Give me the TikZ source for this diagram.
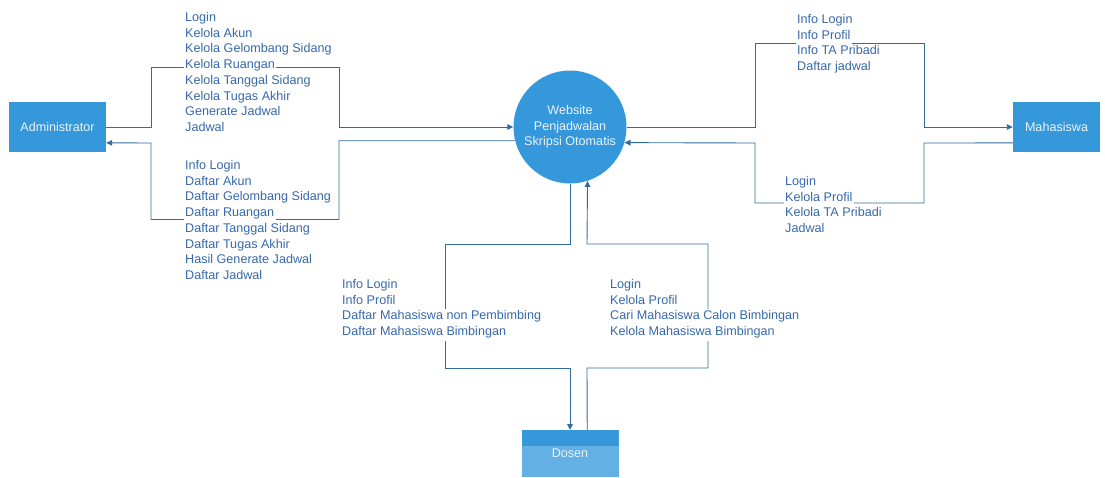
\documentclass[tikz,border=0pt]{standalone}
\usepackage{fontspec}
\setmainfont{Liberation Sans}
\usetikzlibrary{arrows.meta,calc}
\definecolor{boxblue}{RGB}{52,152,219}
\definecolor{boxlight}{RGB}{98,176,228}
\definecolor{boxtext}{RGB}{235,242,250}
\definecolor{linecol}{RGB}{50,108,158}
\definecolor{txtcol}{RGB}{55,105,170}
\tikzset{
  ext/.style={fill=boxblue, text=boxtext, font=\fontsize{12.6}{15}\selectfont, inner sep=0pt},
  proc/.style={circle, fill=boxblue, text=boxtext, minimum size=113pt, inner sep=0pt, font=\fontsize{12.6}{15.5}\selectfont},
  flow/.style={draw=linecol, line width=0.9pt, -{Triangle[length=6pt,width=5.5pt]}},
  lbl/.style={fill=white, text=txtcol, anchor=west, inner xsep=1.5pt, inner ysep=2pt, text height=8.8pt, text depth=2.9pt, font=\fontsize{12.6}{15}\selectfont},
}
\newcommand\labelblock[4]{\foreach \t [count=\i] in {#4} {\node[lbl] (#1\i) at ({#2},{#3+2.5+15.75*(\i-1)}) {\t};}}
\begin{document}
\begin{tikzpicture}[x=1pt,y=-1pt]
\useasboundingbox (0,0) rectangle (1105,477);
% entities and process
\node[ext, minimum width=97pt, minimum height=50pt] (admin) at (57.5,127) {Administrator};
\node[ext, minimum width=87pt, minimum height=50pt] (mhs) at (1056.5,127) {Mahasiswa};
\node[proc] (web) at (570,127) {\raisebox{-2pt}{\begin{tabular}{@{}c@{}}Website\\Penjadwalan\\Skripsi Otomatis\end{tabular}}};
\node[ext, fill=boxlight, minimum width=97pt, minimum height=47pt, anchor=north,
  path picture={\fill[boxblue] (path picture bounding box.north west) rectangle ([yshift=-16pt]path picture bounding box.north east);}]
  (dosen) at (570,430) {Dosen};
% connectors
\draw[flow] (admin.east) -- (151,127) -- (151,67) -- (339,67) -- (339,127) -- (web.west);
\draw[flow] (web.194) -| (339,219.5) -| (151,143) -- (admin.-18.3);
\draw[flow] (web.east) -- (755,127) -- (755,43) -- (924,43) -- (924,127) -- (mhs.west);
\draw[flow] (mhs.200.2) -- (924,143) -- (924,203) -- (755,203) -- (755,143) -- (web.-16.5);
\draw[flow] (web.south) -- (570,244) -- (445,244) -- (445,368) -- (570,368) -- (dosen.north);
\draw[flow] (dosen.54.1) -- (587,368) -- (708,368) -- (708,244) -- (587,244) -- (web.-72.5);
% labels
\labelblock{at}{183.5}{16}{Login,Kelola Akun,Kelola Gelombang Sidang,Kelola Ruangan,Kelola Tanggal Sidang,Kelola Tugas Akhir,Generate Jadwal,Jadwal}
\labelblock{ab}{183.5}{164}{Info Login,Daftar Akun,Daftar Gelombang Sidang,Daftar Ruangan,Daftar Tanggal Sidang,Daftar Tugas Akhir,Hasil Generate Jadwal,Daftar Jadwal}
\labelblock{mt}{795.5}{18}{Info Login,Info Profil,Info TA Pribadi,Daftar jadwal}
\labelblock{mb}{783.5}{180}{Login,Kelola Profil,Kelola TA Pribadi,Jadwal}
\labelblock{dl}{340.5}{283}{Info Login,Info Profil,Daftar Mahasiswa non Pembimbing,Daftar Mahasiswa Bimbingan}
\labelblock{dr}{608.5}{283}{Login,Kelola Profil,Cari Mahasiswa Calon Bimbingan,Kelola Mahasiswa Bimbingan}
\end{tikzpicture}
\end{document}
